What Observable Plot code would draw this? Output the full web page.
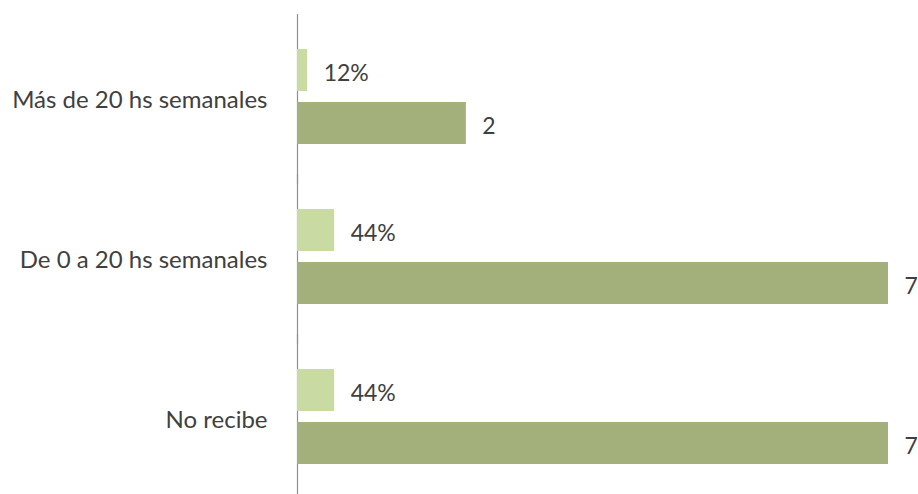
<!DOCTYPE html>
<html>
<head>
<meta charset="utf-8">
<script src="https://cdn.jsdelivr.net/npm/d3@7"></script>
<script src="https://cdn.jsdelivr.net/npm/@observablehq/plot@0.6"></script>
<style>
  html, body { margin: 0; padding: 0; background: #ffffff; }
</style>
</head>
<body>
<div id="chart"></div>
<script>
const categories = ["Más de 20 hs semanales", "De 0 a 20 hs semanales", "No recibe"];
const seriesKeys = ["pct", "count"];
const pctValues = [0.12, 0.44, 0.44];
const pctLabels = ["12%", "44%", "44%"];
const countValues = [2, 7, 7];
const countLabels = ["2", "7", "7"];
const xDomain = [0, 7];

const data = categories.flatMap((c, i) => [
  {category: c, series: "pct", value: pctValues[i], label: pctLabels[i]},
  {category: c, series: "count", value: countValues[i], label: countLabels[i]}
]);

const chart = Plot.plot({
  width: 918,
  height: 494,
  marginLeft: 297,
  marginRight: 30,
  marginTop: 48,
  marginBottom: 29,
  style: {fontFamily: "Lato, sans-serif", background: "#ffffff", color: "#404040"},
  x: {domain: xDomain, axis: null},
  y: {domain: seriesKeys, axis: null, paddingInner: 0.21, paddingOuter: 0},
  fy: {domain: categories, paddingInner: 0.408, paddingOuter: 0, axis: null},
  color: {domain: seriesKeys, range: ["#c9dba2", "#a3b07b"]},
  marks: [
    Plot.ruleX([0], {stroke: "#8f8f8f", strokeWidth: 1.2, insetTop: -35, insetBottom: -40}),
    Plot.barX(data, {x: "value", y: "series", fy: "category", fill: "series"}),
    Plot.text(data, {x: "value", y: "series", fy: "category", text: "label",
      textAnchor: "start", dx: 16, dy: 3, fontSize: 23, fill: "#404040"}),
    Plot.axisFy({anchor: "left", tickSize: 0, tickPadding: 30, label: null,
      fontSize: 24, dy: 3, fill: "#404040"})
  ]
});
document.getElementById("chart").appendChild(chart);
</script>
</body>
</html>
